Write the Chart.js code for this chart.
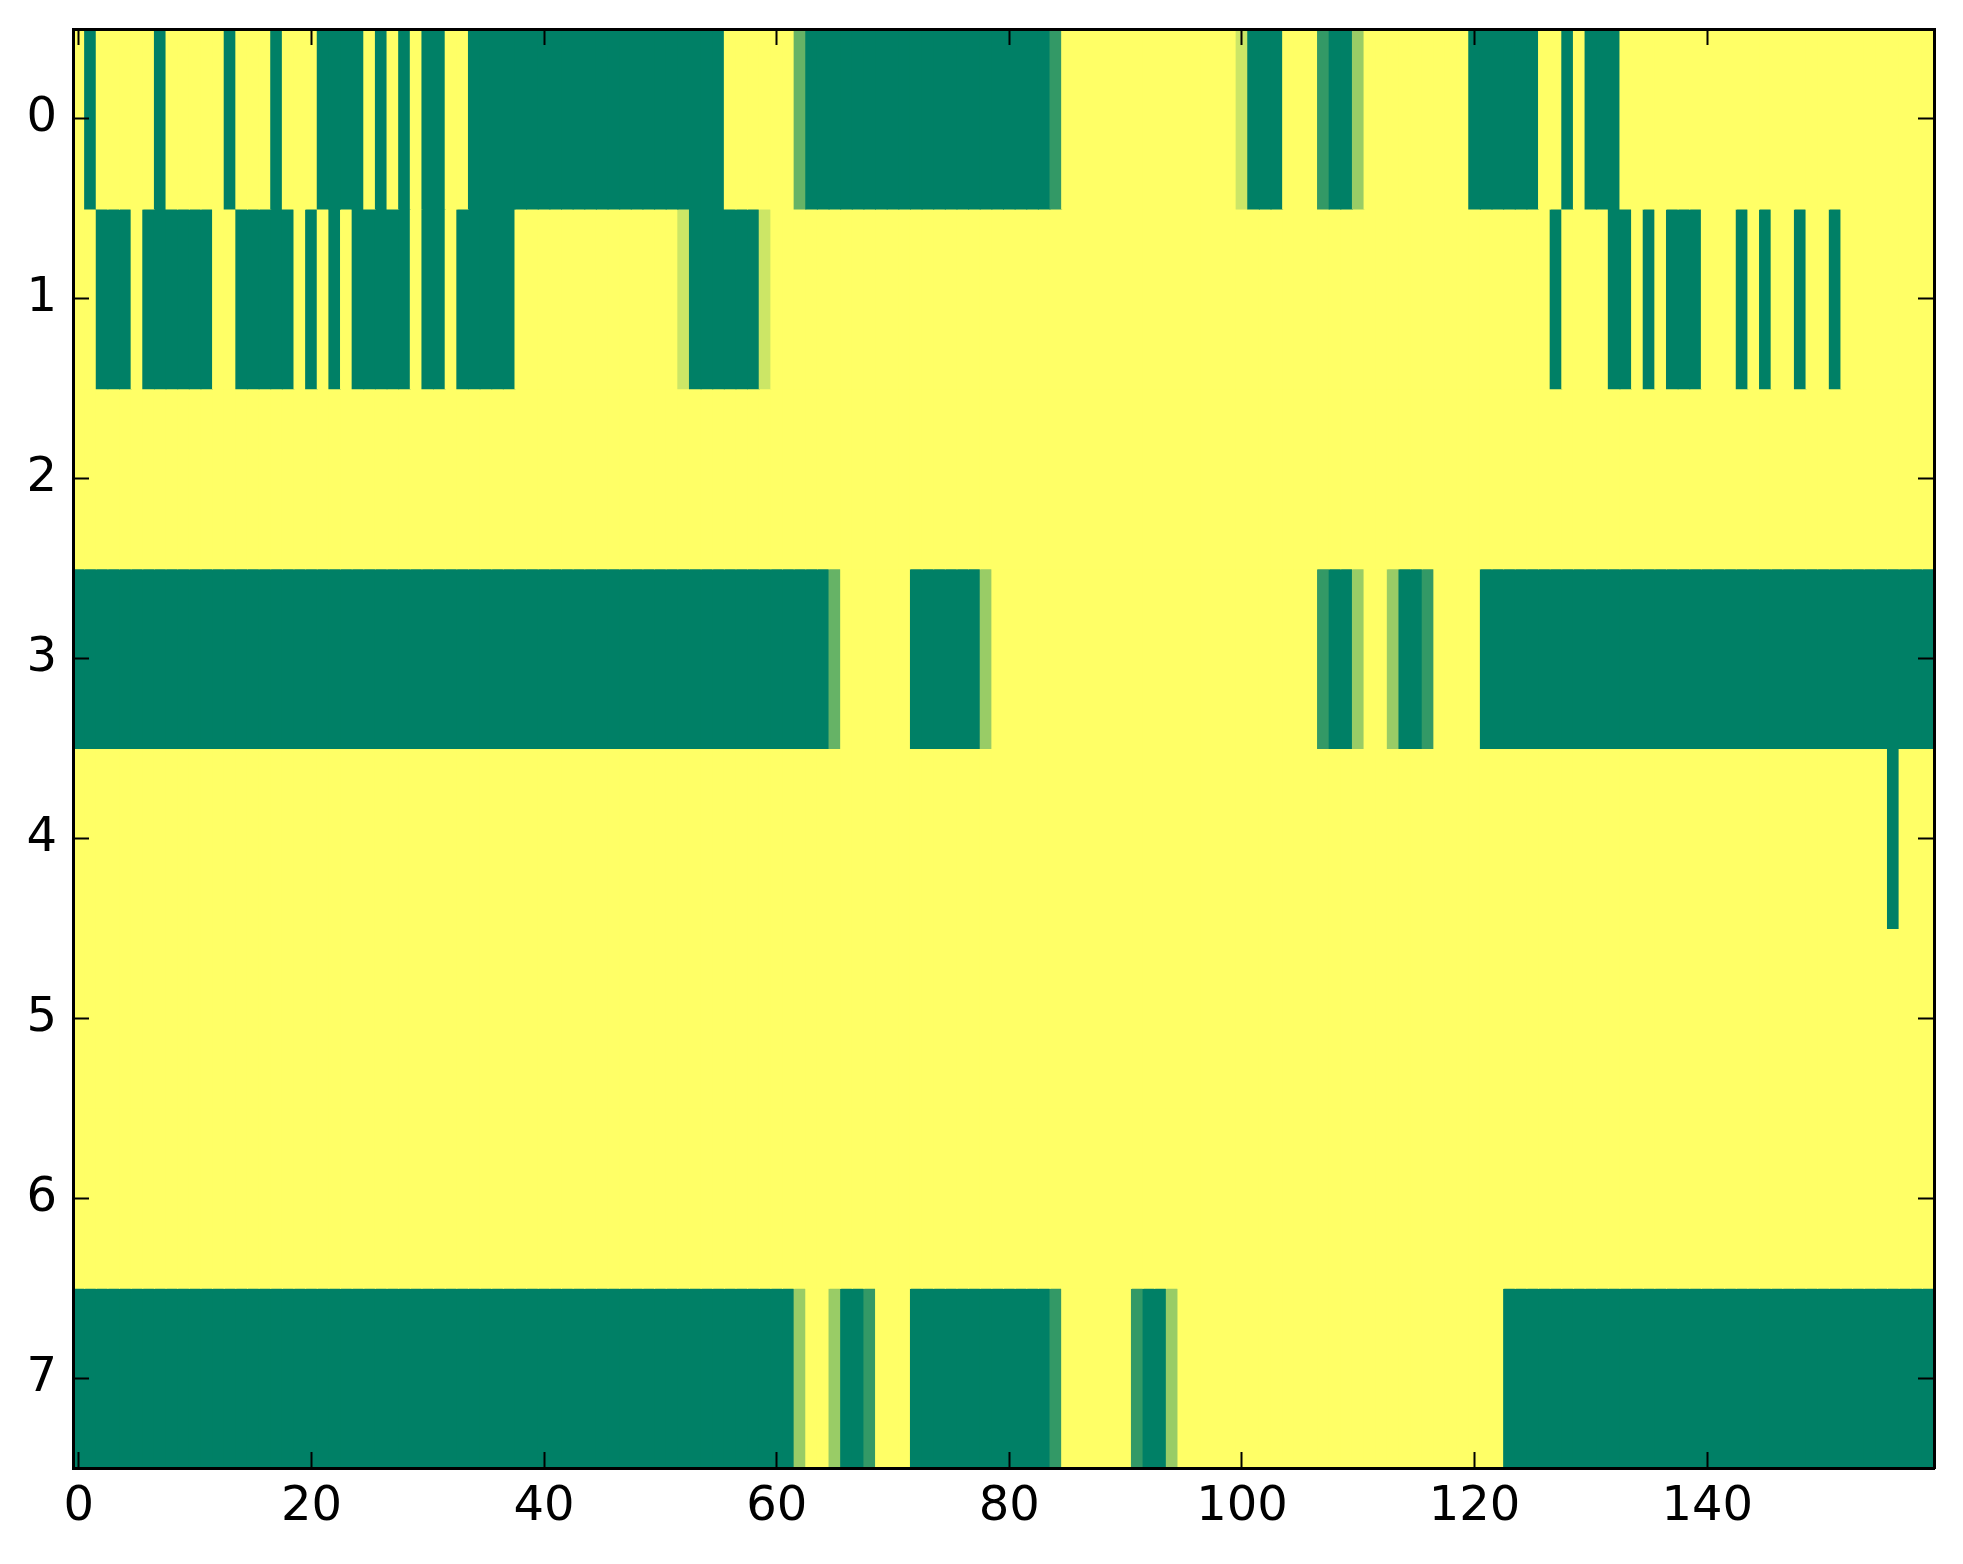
<!DOCTYPE html>
<html>
<head>
<meta charset="utf-8">
<script src="https://cdn.jsdelivr.net/npm/chart.js@4.4.1/dist/chart.umd.min.js"></script>
<style>
  html, body { margin: 0; padding: 0; background: #fff; }
  canvas { display: block; }
</style>
</head>
<body>
<canvas id="heat" width="1963" height="1564"></canvas>
<script>
const xTicks = [0, 20, 40, 60, 80, 100, 120, 140];
const yTicks = [0, 1, 2, 3, 4, 5, 6, 7];

// one string per row, one digit per column (160 columns), cell value = digit / 5
const row0 = '5055555055 5550555055 5000050505 0055000000 0000000000 0000005555 5520000000 0000000000 0000155555 5555555555 4000555100 3555555555 0000005505 0005555555 5555555555 5555555555';
const row1 = '5500050000 0055000005 0505000005 0050000055 5555555555 5540000004 5555555555 5555555555 5555555555 5555555555 5555555555 5555555555 5555555055 5500505000 5550505505 5055555555';
const row2 = '5555555555 5555555555 5555555555 5555555555 5555555555 5555555555 5555555555 5555555555 5555555555 5555555555 5555555555 5555555555 5555555555 5555555555 5555555555 5555555555';
const row3 = '0000000000 0000000000 0000000000 0000000000 0000000000 0000000000 0000025555 5500000035 5555555555 5555555555 5555555100 3553001555 5000000000 0000000000 0000000000 0000000000';
const row4 = '5555555555 5555555555 5555555555 5555555555 5555555555 5555555555 5555555555 5555555555 5555555555 5555555555 5555555555 5555555555 5555555555 5555555555 5555555555 5555550555';
const row5 = '5555555555 5555555555 5555555555 5555555555 5555555555 5555555555 5555555555 5555555555 5555555555 5555555555 5555555555 5555555555 5555555555 5555555555 5555555555 5555555555';
const row6 = '5555555555 5555555555 5555555555 5555555555 5555555555 5555555555 5555555555 5555555555 5555555555 5555555555 5555555555 5555555555 5555555555 5555555555 5555555555 5555555555';
const row7 = '0000000000 0000000000 0000000000 0000000000 0000000000 0000000000 0035530015 5500000000 0000155555 5100355555 5555555555 5555555555 5550000000 0000000000 0000000000 0000000000';

const rows = [row0, row1, row2, row3, row4, row5, row6, row7];
const cells = rows.map(s => s.replace(/ /g, '').split('').map(c => Number(c) / 5));

// matplotlib "summer": r = v, g = 0.5 + 0.5v, b = 0.4
function summer(v) {
  const r = Math.round(255 * v);
  const g = Math.round(255 * (0.5 + 0.5 * v));
  return `rgb(${r},${g},102)`;
}

const datasets = cells.map((vals, r) => ({
  label: 'row ' + r,
  xAxisID: 'x',
  yAxisID: 'y',
  data: vals.map((v, c) => ({ x: c, y: [r - 0.5, r + 0.5], v })),
  backgroundColor: vals.map(summer),
  borderWidth: 0,
  inflateAmount: 0.5,
  grouped: false,
  barPercentage: 1,
  categoryPercentage: 1,
}));

const tickFont = { family: 'DejaVu Sans', size: 48 };

// ticks point inward and are drawn on top of the cells
function axisGrid() {
  return {
    z: 1,
    drawOnChartArea: false,
    drawTicks: true,
    tickLength: -16,
    tickWidth: 2,
    tickColor: '#000',
    offset: false,
  };
}

const border = { display: true, color: '#000', width: 3, z: 1 };

function fixSize(prop, px) {
  return s => {
    s[prop] = px;
    s.paddingTop = 0;
    s.paddingBottom = 0;
    s.paddingLeft = 0;
    s.paddingRight = 0;
  };
}

new Chart(document.getElementById('heat').getContext('2d'), {
  type: 'bar',
  data: { datasets },
  options: {
    responsive: false,
    devicePixelRatio: 1,
    animation: false,
    layout: { padding: 0 },
    plugins: {
      legend: { display: false },
      tooltip: {
        callbacks: {
          label: ctx => `(${ctx.raw.x}, ${ctx.datasetIndex}): ${ctx.raw.v.toFixed(1)}`,
        },
      },
    },
    scales: {
      x: {
        type: 'linear',
        position: 'bottom',
        min: -0.5,
        max: 159.5,
        offset: false,
        afterBuildTicks: s => { s.ticks = xTicks.map(v => ({ value: v })); },
        afterFit: fixSize('height', 96),
        grid: axisGrid(),
        border,
        ticks: { color: '#000', font: tickFont, padding: 27, maxRotation: 0, autoSkip: false },
      },
      x2: {
        type: 'linear',
        position: 'top',
        min: -0.5,
        max: 159.5,
        offset: false,
        afterBuildTicks: s => { s.ticks = xTicks.map(v => ({ value: v })); },
        afterFit: fixSize('height', 29),
        grid: axisGrid(),
        border,
        ticks: { display: false },
      },
      y: {
        type: 'linear',
        position: 'left',
        min: -0.5,
        max: 7.5,
        reverse: true,
        afterBuildTicks: s => { s.ticks = yTicks.map(v => ({ value: v })); },
        afterFit: fixSize('width', 73),
        grid: axisGrid(),
        border,
        ticks: { color: '#000', font: tickFont, padding: 32, autoSkip: false },
      },
      y2: {
        type: 'linear',
        position: 'right',
        min: -0.5,
        max: 7.5,
        reverse: true,
        afterBuildTicks: s => { s.ticks = yTicks.map(v => ({ value: v })); },
        afterFit: fixSize('width', 29),
        grid: axisGrid(),
        border,
        ticks: { display: false },
      },
    },
  },
});
</script>
</body>
</html>
